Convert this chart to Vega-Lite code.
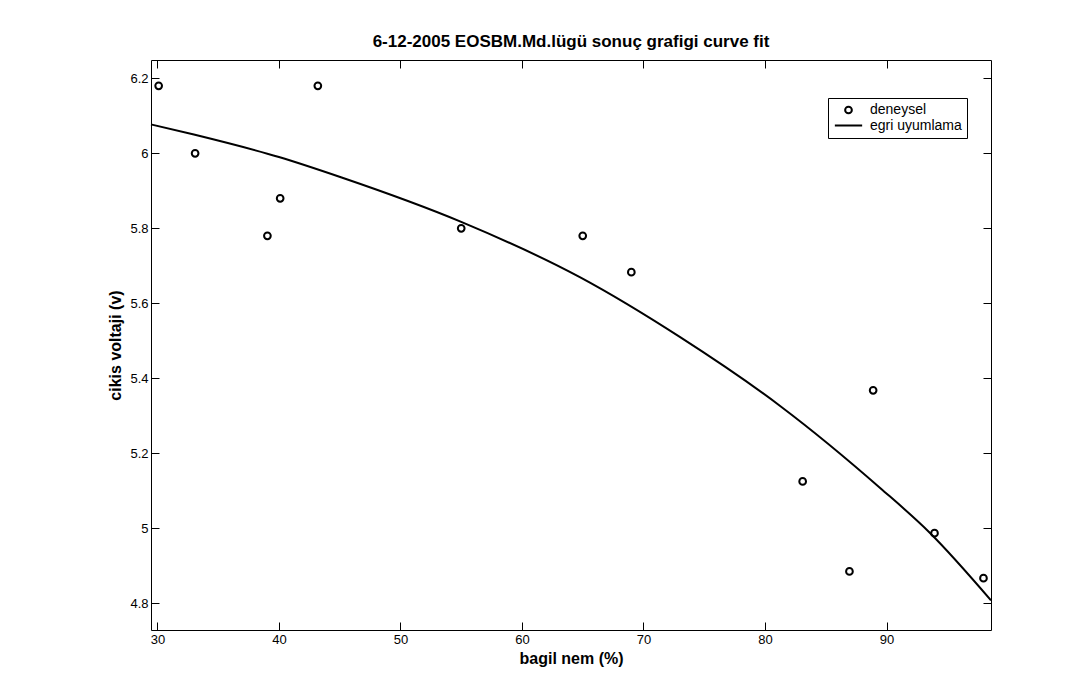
{
  "$schema": "https://vega.github.io/schema/vega-lite/v6.json",
  "width": 840,
  "height": 570,
  "autosize": {"type": "none"},
  "padding": {"left": 151, "top": 60, "right": 101, "bottom": 51},
  "background": "white",
  "title": {
    "text": "6-12-2005 EOSBM.Md.lügü sonuç grafigi curve fit",
    "font": "Liberation Sans",
    "fontSize": 17,
    "fontWeight": "bold",
    "color": "black",
    "anchor": "middle",
    "baseline": "alphabetic",
    "offset": -4
  },
  "datasets": {
    "points": [
      {"x": 30.1, "y": 6.18, "series": "deneysel"},
      {"x": 33.1, "y": 6.0, "series": "deneysel"},
      {"x": 39.05, "y": 5.78, "series": "deneysel"},
      {"x": 40.1, "y": 5.88, "series": "deneysel"},
      {"x": 43.2, "y": 6.18, "series": "deneysel"},
      {"x": 55.0, "y": 5.80, "series": "deneysel"},
      {"x": 65.0, "y": 5.78, "series": "deneysel"},
      {"x": 69.0, "y": 5.683, "series": "deneysel"},
      {"x": 83.1, "y": 5.125, "series": "deneysel"},
      {"x": 86.95, "y": 4.885, "series": "deneysel"},
      {"x": 88.9, "y": 5.368, "series": "deneysel"},
      {"x": 93.95, "y": 4.987, "series": "deneysel"},
      {"x": 97.98, "y": 4.867, "series": "deneysel"}
    ],
    "curve": [
      {"x": 29.47, "y": 6.077},
      {"x": 33, "y": 6.05},
      {"x": 40, "y": 5.99},
      {"x": 45.1, "y": 5.936},
      {"x": 55, "y": 5.817},
      {"x": 64.8, "y": 5.669},
      {"x": 73.05, "y": 5.509},
      {"x": 81.3, "y": 5.325},
      {"x": 89.5, "y": 5.107},
      {"x": 93.6, "y": 4.987},
      {"x": 98.6, "y": 4.808}
    ]
  },
  "layer": [
    {
      "data": {"name": "curve"},
      "mark": {"type": "line", "color": "black", "strokeWidth": 2, "interpolate": "monotone"},
      "encoding": {
        "x": {
          "field": "x", "type": "quantitative",
          "scale": {"domain": [29.47, 98.6], "nice": false, "zero": false},
          "axis": {"orient": "top", "labels": false, "title": null, "values": [30, 40, 50, 60, 70, 80, 90]}
        },
        "y": {
          "field": "y", "type": "quantitative",
          "scale": {"domain": [4.7288, 6.2488], "nice": false, "zero": false},
          "axis": {"orient": "right", "labels": false, "title": null, "values": [4.8, 5.0, 5.2, 5.4, 5.6, 5.8, 6.0, 6.2]}
        }
      }
    },
    {
      "data": {"name": "points"},
      "mark": {"type": "point", "filled": false, "color": "black", "strokeWidth": 2, "opacity": 1},
      "encoding": {
        "x": {
          "field": "x", "type": "quantitative",
          "axis": {"orient": "bottom", "title": "bagil nem (%)", "titlePadding": 4, "values": [30, 40, 50, 60, 70, 80, 90]}
        },
        "y": {
          "field": "y", "type": "quantitative",
          "axis": {"orient": "left", "title": "cikis voltaji (v)", "titlePadding": 6, "format": "~g", "values": [4.8, 5.0, 5.2, 5.4, 5.6, 5.8, 6.0, 6.2]}
        },
        "shape": {
          "field": "series", "type": "nominal",
          "scale": {"domain": ["deneysel", "egri uyumlama"], "range": ["circle", "M-2.1,0H2.1"]},
          "legend": {"title": null}
        },
        "size": {
          "field": "series", "type": "nominal",
          "scale": {"domain": ["deneysel", "egri uyumlama"], "range": [45, 169]},
          "legend": {"title": null}
        }
      }
    }
  ],
  "resolve": {"axis": {"x": "independent", "y": "independent"}},
  "config": {
    "view": {"stroke": "black", "strokeWidth": 1},
    "axis": {
      "grid": false,
      "domain": false,
      "tickColor": "black",
      "tickSize": -8,
      "tickWidth": 1,
      "labelFont": "Liberation Sans",
      "labelFontSize": 13,
      "labelColor": "black",
      "labelPadding": 11,
      "titleFont": "Liberation Sans",
      "titleFontSize": 16,
      "titleFontWeight": "bold",
      "titleColor": "black"
    },
    "legend": {
      "orient": "none",
      "legendX": 677,
      "legendY": 38,
      "strokeColor": "black",
      "fillColor": "white",
      "padding": 5,
      "labelFont": "Liberation Sans",
      "labelFontSize": 14,
      "labelColor": "black",
      "labelOffset": 14,
      "symbolOffset": 8,
      "rowPadding": 0,
      "symbolStrokeWidth": 2,
      "symbolStrokeColor": "black"
    }
  }
}
